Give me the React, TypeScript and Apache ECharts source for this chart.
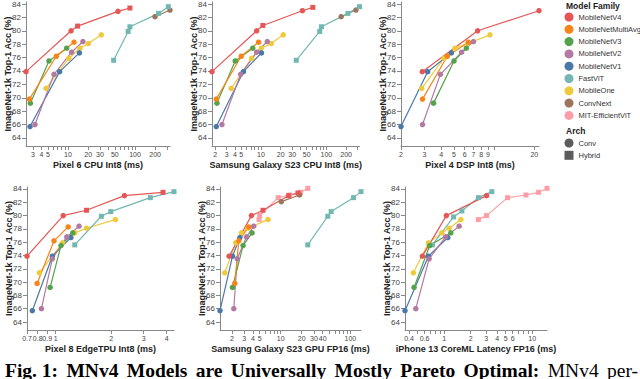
import React, { useEffect, useRef } from 'react';
import * as echarts from 'echarts';

type Arch = 'Conv' | 'Hybrid';
type Row = [string, number, number, Arch];

const FAMILIES = ['MobileNetV4', 'MobileNetMultiAvg', 'MobileNetV3', 'MobileNetV2', 'MobileNetV1', 'FastViT', 'MobileOne', 'ConvNext', 'MIT-EfficientViT'];
const COLORS = ['#e45756', '#f58518', '#54a24b', '#b279a2', '#4c78a8', '#72b7b2', '#eeca3b', '#9d755d', '#ff9da6'];
const ARCHS = ['Conv', 'Hybrid'];

const ACC_TICKS = [64, 66, 68, 70, 72, 74, 76, 78, 80, 82, 84];
const ACC_MIN = 62.8;
const ACC_MAX = 84.3;

// [family, latency ms, top-1 acc, arch]
const PIXEL6_CPU: Row[] = [
  ['MobileNetV4', 2.36, 73.9, 'Conv'], ['MobileNetV4', 11.1, 80.0, 'Conv'], ['MobileNetV4', 13.9, 80.7, 'Hybrid'], ['MobileNetV4', 55.7, 82.9, 'Conv'], ['MobileNetV4', 84, 83.4, 'Hybrid'],
  ['MobileNetMultiAvg', 2.65, 69.8, 'Conv'], ['MobileNetMultiAvg', 6.7, 76.2, 'Conv'], ['MobileNetMultiAvg', 12.3, 78.3, 'Conv'],
  ['MobileNetV3', 2.74, 69.2, 'Conv'], ['MobileNetV3', 5.2, 75.5, 'Conv'], ['MobileNetV3', 9.55, 77.4, 'Conv'],
  ['MobileNetV2', 3.21, 66.0, 'Conv'], ['MobileNetV2', 6.18, 73.5, 'Conv'], ['MobileNetV2', 11.3, 76.8, 'Conv'], ['MobileNetV2', 16.7, 78.4, 'Conv'],
  ['MobileNetV1', 2.71, 65.7, 'Conv'], ['MobileNetV1', 7.5, 73.9, 'Conv'], ['MobileNetV1', 14.8, 76.7, 'Conv'],
  ['FastViT', 48, 75.6, 'Hybrid'], ['FastViT', 79, 79.9, 'Hybrid'], ['FastViT', 84, 80.6, 'Hybrid'], ['FastViT', 225, 82.6, 'Hybrid'], ['FastViT', 314, 83.6, 'Hybrid'],
  ['MobileOne', 4.7, 71.4, 'Conv'], ['MobileOne', 10.3, 75.9, 'Conv'], ['MobileOne', 15.1, 77.4, 'Conv'], ['MobileOne', 20.1, 78.1, 'Conv'], ['MobileOne', 31.4, 79.4, 'Conv'],
  ['ConvNext', 199, 82.1, 'Conv'], ['ConvNext', 333, 83.1, 'Conv'],
];

const S23_CPU: Row[] = [
  ['MobileNetV4', 1.79, 73.9, 'Conv'], ['MobileNetV4', 8.6, 80.0, 'Conv'], ['MobileNetV4', 10.7, 80.8, 'Hybrid'], ['MobileNetV4', 43, 83.0, 'Conv'], ['MobileNetV4', 62, 83.5, 'Hybrid'],
  ['MobileNetMultiAvg', 2.08, 69.8, 'Conv'], ['MobileNetMultiAvg', 5.0, 76.2, 'Conv'], ['MobileNetMultiAvg', 9.2, 78.3, 'Conv'],
  ['MobileNetV3', 2.13, 69.2, 'Conv'], ['MobileNetV3', 4.05, 75.5, 'Conv'], ['MobileNetV3', 7.5, 77.4, 'Conv'],
  ['MobileNetV2', 2.54, 66.0, 'Conv'], ['MobileNetV2', 4.9, 73.5, 'Conv'], ['MobileNetV2', 8.6, 76.8, 'Conv'], ['MobileNetV2', 12.5, 78.4, 'Conv'],
  ['MobileNetV1', 2.08, 65.7, 'Conv'], ['MobileNetV1', 5.4, 73.9, 'Conv'], ['MobileNetV1', 10.2, 76.7, 'Conv'],
  ['FastViT', 34.6, 75.6, 'Hybrid'], ['FastViT', 79, 79.9, 'Hybrid'], ['FastViT', 84, 80.6, 'Hybrid'], ['FastViT', 213, 82.6, 'Hybrid'], ['FastViT', 320, 83.6, 'Hybrid'],
  ['MobileOne', 3.52, 71.4, 'Conv'], ['MobileOne', 7.2, 75.9, 'Conv'], ['MobileOne', 10.1, 77.4, 'Conv'], ['MobileOne', 14.4, 78.1, 'Conv'], ['MobileOne', 21.9, 79.4, 'Conv'],
  ['ConvNext', 168, 82.1, 'Conv'], ['ConvNext', 282, 83.1, 'Conv'],
];

const PIXEL4_DSP: Row[] = [
  ['MobileNetV4', 2.89, 73.9, 'Conv'], ['MobileNetV4', 7.52, 80.0, 'Conv'], ['MobileNetV4', 21.7, 83.0, 'Conv'],
  ['MobileNetMultiAvg', 2.9, 69.8, 'Conv'], ['MobileNetMultiAvg', 4.45, 76.2, 'Conv'], ['MobileNetMultiAvg', 6.4, 78.3, 'Conv'],
  ['MobileNetV3', 3.51, 69.2, 'Conv'], ['MobileNetV3', 5.0, 75.5, 'Conv'], ['MobileNetV3', 6.18, 77.4, 'Conv'],
  ['MobileNetV2', 2.9, 66.0, 'Conv'], ['MobileNetV2', 3.95, 73.5, 'Conv'], ['MobileNetV2', 5.7, 76.8, 'Conv'], ['MobileNetV2', 7.0, 78.4, 'Conv'],
  ['MobileNetV1', 2.0, 65.7, 'Conv'], ['MobileNetV1', 3.17, 73.9, 'Conv'], ['MobileNetV1', 4.77, 76.7, 'Conv'],
  ['MobileOne', 2.86, 71.4, 'Conv'], ['MobileOne', 4.2, 75.9, 'Conv'], ['MobileOne', 5.08, 77.4, 'Conv'], ['MobileOne', 6.32, 78.1, 'Conv'], ['MobileOne', 9.3, 79.4, 'Conv'],
];

const PIXEL8_TPU: Row[] = [
  ['MobileNetV4', 0.70, 73.9, 'Conv'], ['MobileNetV4', 1.10, 80.0, 'Conv'], ['MobileNetV4', 1.47, 80.8, 'Hybrid'], ['MobileNetV4', 2.36, 83.0, 'Conv'], ['MobileNetV4', 3.82, 83.5, 'Hybrid'],
  ['MobileNetMultiAvg', 0.794, 69.8, 'Conv'], ['MobileNetMultiAvg', 0.98, 76.2, 'Conv'], ['MobileNetMultiAvg', 1.17, 78.3, 'Conv'],
  ['MobileNetV3', 0.934, 69.2, 'Conv'], ['MobileNetV3', 1.07, 75.5, 'Conv'], ['MobileNetV3', 1.24, 77.4, 'Conv'],
  ['MobileNetV2', 0.838, 66.0, 'Conv'], ['MobileNetV2', 0.96, 73.5, 'Conv'], ['MobileNetV2', 1.15, 76.8, 'Conv'], ['MobileNetV2', 1.34, 78.4, 'Conv'],
  ['MobileNetV1', 0.748, 65.7, 'Conv'], ['MobileNetV1', 0.96, 73.9, 'Conv'], ['MobileNetV1', 1.21, 76.7, 'Conv'],
  ['FastViT', 1.27, 75.6, 'Hybrid'], ['FastViT', 1.77, 79.9, 'Hybrid'], ['FastViT', 1.99, 80.6, 'Hybrid'], ['FastViT', 3.26, 82.7, 'Hybrid'], ['FastViT', 4.38, 83.6, 'Hybrid'],
  ['MobileOne', 0.817, 71.4, 'Conv'], ['MobileOne', 1.09, 75.9, 'Conv'], ['MobileOne', 1.27, 77.4, 'Conv'], ['MobileOne', 1.47, 78.1, 'Conv'], ['MobileOne', 2.11, 79.4, 'Conv'],
];

const S23_GPU: Row[] = [
  ['MobileNetV4', 1.82, 73.9, 'Conv'], ['MobileNetV4', 3.81, 80.0, 'Conv'], ['MobileNetV4', 5.58, 80.8, 'Hybrid'], ['MobileNetV4', 13.0, 83.0, 'Hybrid'], ['MobileNetV4', 17.7, 83.4, 'Hybrid'],
  ['MobileNetMultiAvg', 2.2, 69.8, 'Conv'], ['MobileNetMultiAvg', 2.51, 76.2, 'Conv'], ['MobileNetMultiAvg', 3.49, 78.3, 'Conv'],
  ['MobileNetV3', 2.04, 69.2, 'Conv'], ['MobileNetV3', 2.89, 75.5, 'Conv'], ['MobileNetV3', 3.89, 77.4, 'Conv'],
  ['MobileNetV2', 2.13, 66.0, 'Conv'], ['MobileNetV2', 2.38, 73.5, 'Conv'], ['MobileNetV2', 3.24, 76.8, 'Conv'], ['MobileNetV2', 4.11, 78.4, 'Conv'],
  ['MobileNetV1', 1.35, 65.7, 'Conv'], ['MobileNetV1', 2.04, 73.9, 'Conv'], ['MobileNetV1', 2.6, 76.7, 'Conv'],
  ['FastViT', 24.5, 75.6, 'Hybrid'], ['FastViT', 47.4, 79.9, 'Hybrid'], ['FastViT', 53, 80.6, 'Hybrid'], ['FastViT', 111, 82.7, 'Hybrid'], ['FastViT', 142, 83.6, 'Hybrid'],
  ['MobileOne', 1.58, 71.4, 'Conv'], ['MobileOne', 2.27, 75.9, 'Conv'], ['MobileOne', 2.74, 77.4, 'Conv'], ['MobileOne', 3.41, 78.1, 'Conv'], ['MobileOne', 6.6, 79.4, 'Conv'],
  ['ConvNext', 10.2, 82.1, 'Conv'], ['ConvNext', 18.7, 83.1, 'Conv'],
  ['MIT-EfficientViT', 4.9, 79.4, 'Hybrid'], ['MIT-EfficientViT', 5.0, 80.0, 'Hybrid'], ['MIT-EfficientViT', 9.2, 82.7, 'Hybrid'], ['MIT-EfficientViT', 13.5, 83.1, 'Hybrid'], ['MIT-EfficientViT', 19.3, 83.5, 'Hybrid'], ['MIT-EfficientViT', 24.5, 84.1, 'Hybrid'],
];

const IPHONE13: Row[] = [
  ['MobileNetV4', 0.567, 73.9, 'Conv'], ['MobileNetV4', 1.06, 80.0, 'Conv'], ['MobileNetV4', 3.03, 83.0, 'Conv'],
  ['MobileNetV3', 0.456, 69.2, 'Conv'], ['MobileNetV3', 0.687, 75.5, 'Conv'], ['MobileNetV3', 1.19, 77.4, 'Conv'],
  ['MobileNetV2', 0.477, 66.0, 'Conv'], ['MobileNetV2', 0.676, 73.5, 'Conv'], ['MobileNetV2', 1.04, 76.8, 'Conv'], ['MobileNetV2', 1.48, 78.4, 'Conv'],
  ['MobileNetV1', 0.36, 65.7, 'Conv'], ['MobileNetV1', 0.664, 73.9, 'Conv'], ['MobileNetV1', 1.1, 76.7, 'Conv'],
  ['FastViT', 0.736, 75.6, 'Hybrid'], ['FastViT', 1.28, 79.8, 'Hybrid'], ['FastViT', 1.59, 80.7, 'Hybrid'], ['FastViT', 2.45, 82.7, 'Hybrid'], ['FastViT', 3.48, 83.6, 'Hybrid'],
  ['MobileOne', 0.448, 71.4, 'Conv'], ['MobileOne', 0.664, 75.9, 'Conv'], ['MobileOne', 0.94, 77.4, 'Conv'], ['MobileOne', 1.14, 78.1, 'Conv'], ['MobileOne', 1.55, 79.4, 'Conv'],
  ['MIT-EfficientViT', 2.45, 79.4, 'Hybrid'], ['MIT-EfficientViT', 3.03, 80.0, 'Hybrid'], ['MIT-EfficientViT', 5.25, 82.7, 'Hybrid'], ['MIT-EfficientViT', 8.48, 83.1, 'Hybrid'], ['MIT-EfficientViT', 11.8, 83.5, 'Hybrid'], ['MIT-EfficientViT', 14.7, 84.1, 'Hybrid'],
];

const TITLES = ['Pixel 6 CPU Int8 (ms)', 'Samsung Galaxy S23 CPU Int8 (ms)', 'Pixel 4 DSP Int8 (ms)', 'Pixel 8 EdgeTPU Int8 (ms)', 'Samsung Galaxy S23 GPU FP16 (ms)', 'iPhone 13 CoreML Latency FP16 (ms)'];
const DATASETS = [PIXEL6_CPU, S23_CPU, PIXEL4_DSP, PIXEL8_TPU, S23_GPU, IPHONE13];

const X_TICKS = [
  [3, 4, 5, 6, 7, 8, 9, 10, 20, 30, 40, 50, 60, 70, 80, 90, 100, 200, 300],
  [2, 3, 4, 5, 6, 7, 8, 9, 10, 20, 30, 40, 50, 60, 70, 80, 90, 100, 200, 300],
  [2, 3, 4, 5, 6, 7, 8, 9, 10, 20],
  [0.7, 0.8, 0.9, 1, 2, 3, 4],
  [2, 3, 4, 5, 6, 7, 8, 9, 10, 20, 30, 40, 50, 60, 70, 80, 90, 100],
  [0.4, 0.5, 0.6, 0.7, 0.8, 0.9, 1, 2, 3, 4, 5, 6, 7, 8, 9, 10],
];
const X_LABELS = [
  [3, 4, 5, 10, 20, 30, 50, 100, 200],
  [2, 3, 4, 5, 10, 20, 30, 50, 100, 200],
  [2, 3, 4, 5, 6, 7, 8, 9, 20],
  [0.7, 0.8, 0.9, 1, 2, 3, 4],
  [2, 3, 4, 5, 10, 20, 30, 40, 100],
  [0.4, 0.6, 1, 2, 3, 4, 5, 6, 10],
];

const CAPTION_BOLD = ['Fig. 1:', 'MNv4', 'Models', 'are', 'Universally', 'Mostly', 'Pareto', 'Optimal:'];
const CAPTION_REGULAR = ['MNv4', 'per-'];

// layout (px)
const LAYOUT = [
  { left: 26, right: 170, top: 2, bottom: 146 },
  { left: 212, right: 359.5, top: 2, bottom: 146 },
  { left: 401, right: 539, top: 2, bottom: 146 },
  { left: 27, right: 174, top: 187, bottom: 330 },
  { left: 220, right: 361, top: 187, bottom: 330 },
  { left: 405, right: 547, top: 187, bottom: 330 },
];

const FONT = 'Liberation Sans';
const CAP_BOLD_FONT = 'bold 19.5px "Liberation Serif"';
const CAP_REG_FONT = '19.5px "Liberation Serif"';
const lg = (v: number) => Math.log10(v);
const fmt = (v: number) => String(Number(Math.pow(10, v).toPrecision(2)));

function captionGraphics() {
  const ctx = document.createElement('canvas').getContext('2d') as CanvasRenderingContext2D;
  const words = [
    ...CAPTION_BOLD.map((t) => ({ t, font: CAP_BOLD_FONT })),
    ...CAPTION_REGULAR.map((t) => ({ t, font: CAP_REG_FONT })),
  ];
  const widths = words.map((w) => { ctx.font = w.font; return ctx.measureText(w.t).width; });
  const x0 = 5, x1 = 638;
  const total = widths.reduce((a, b) => a + b, 0);
  const gap = (x1 - x0 - total) / (words.length - 1);
  let x = x0;
  return words.map((w, i) => {
    const el = { type: 'text', x, y: 370, style: { text: w.t, font: w.font, fill: '#000', verticalAlign: 'middle' } };
    x += widths[i] + gap;
    return el;
  });
}

function buildOption() {
  const grid: any[] = [];
  const xAxis: any[] = [];
  const yAxis: any[] = [];
  const series: any[] = [];
  DATASETS.forEach((rows, i) => {
    const L = LAYOUT[i];
    grid.push({ left: L.left, top: L.top, width: L.right - L.left, height: L.bottom - L.top, outerBoundsMode: 'none', containLabel: false });
    const ms = rows.map((r) => r[1]);
    xAxis.push({
      type: 'value', gridIndex: i, min: lg(Math.min(...ms)), max: lg(Math.max(...ms)),
      name: TITLES[i], nameLocation: 'middle', nameGap: 14, nameMoveOverlap: false,
      nameTextStyle: { fontFamily: FONT, fontWeight: 'bold', fontSize: 9, color: '#222' },
      axisLine: { show: true, onZero: false, lineStyle: { color: '#888', width: 1 } },
      axisTick: { show: true, length: 4, customValues: X_TICKS[i].map(lg), lineStyle: { color: '#888' } },
      axisLabel: { show: true, margin: 5, fontSize: 7, fontFamily: FONT, color: '#444', customValues: X_LABELS[i].map(lg), formatter: (v: number) => fmt(v), hideOverlap: false, showMinLabel: true, showMaxLabel: true },
      splitLine: { show: false },
    });
    yAxis.push({
      type: 'value', gridIndex: i, min: ACC_MIN, max: ACC_MAX,
      name: 'ImageNet-1k Top-1 Acc (%)', nameLocation: 'middle', nameGap: 14, nameRotate: 90, nameMoveOverlap: false,
      nameTextStyle: { fontFamily: FONT, fontWeight: 'bold', fontSize: 9, color: '#222' },
      axisLine: { show: true, onZero: false, lineStyle: { color: '#888', width: 1 } },
      axisTick: { show: true, length: 4, customValues: ACC_TICKS, lineStyle: { color: '#888' } },
      axisLabel: { show: true, margin: 5, fontSize: 8, fontFamily: FONT, color: '#444', customValues: ACC_TICKS },
      splitLine: { show: false },
    });
    const order = [...FAMILIES].reverse();
    order.forEach((fam) => {
      const pts = rows.filter((r) => r[0] === fam).sort((a, b) => a[1] - b[1]);
      if (!pts.length) return;
      const color = COLORS[FAMILIES.indexOf(fam)];
      series.push({
        type: 'line', name: fam, xAxisIndex: i, yAxisIndex: i,
        data: pts.map((r) => ({ value: [lg(r[1]), r[2]], symbol: r[3] === 'Hybrid' ? 'rect' : 'circle', symbolSize: r[3] === 'Hybrid' ? 5 : 5.5 })),
        showSymbol: true, showAllSymbol: true, clip: false,
        lineStyle: { color, width: 1.2 }, itemStyle: { color, opacity: 1 },
        emphasis: { disabled: true }, silent: true,
      });
    });
  });
  ARCHS.forEach((a) => series.push({ type: 'scatter', name: a, xAxisIndex: 0, yAxisIndex: 0, data: [], itemStyle: { color: '#333' } }));

  const legendText = { fontFamily: FONT, fontSize: 7.5, color: '#333', lineHeight: 9 };
  return {
    animation: false,
    grid, xAxis, yAxis, series,
    legend: [
      { orient: 'vertical', left: 564.5, top: 12.5, itemWidth: 9, itemHeight: 9, itemGap: 3.3, selectedMode: false, padding: 0,
        data: FAMILIES.map((f) => ({ name: f, icon: 'circle' })), textStyle: legendText },
      { orient: 'vertical', left: 564.5, top: 138.5, itemWidth: 9, itemHeight: 9, itemGap: 3.3, selectedMode: false, padding: 0,
        data: [{ name: 'Conv', icon: 'circle' }, { name: 'Hybrid', icon: 'rect' }], textStyle: legendText },
    ],
    graphic: [
      { type: 'text', x: 566, y: 6, style: { text: 'Model Family', font: `bold 8.5px "${FONT}"`, fill: '#222', verticalAlign: 'middle' } },
      { type: 'text', x: 566, y: 131, style: { text: 'Arch', font: `bold 8.5px "${FONT}"`, fill: '#222', verticalAlign: 'middle' } },
      ...captionGraphics(),
    ],
  };
}

export default function App() {
  const ref = useRef<HTMLDivElement>(null);
  useEffect(() => {
    if (!ref.current) return;
    const chart = echarts.init(ref.current, undefined, { renderer: 'svg' });
    chart.setOption(buildOption() as any);
    return () => chart.dispose();
  }, []);
  return <div ref={ref} style={{ position: 'fixed', left: 0, top: 0, width: 640, height: 379, background: '#fff' }} />;
}
